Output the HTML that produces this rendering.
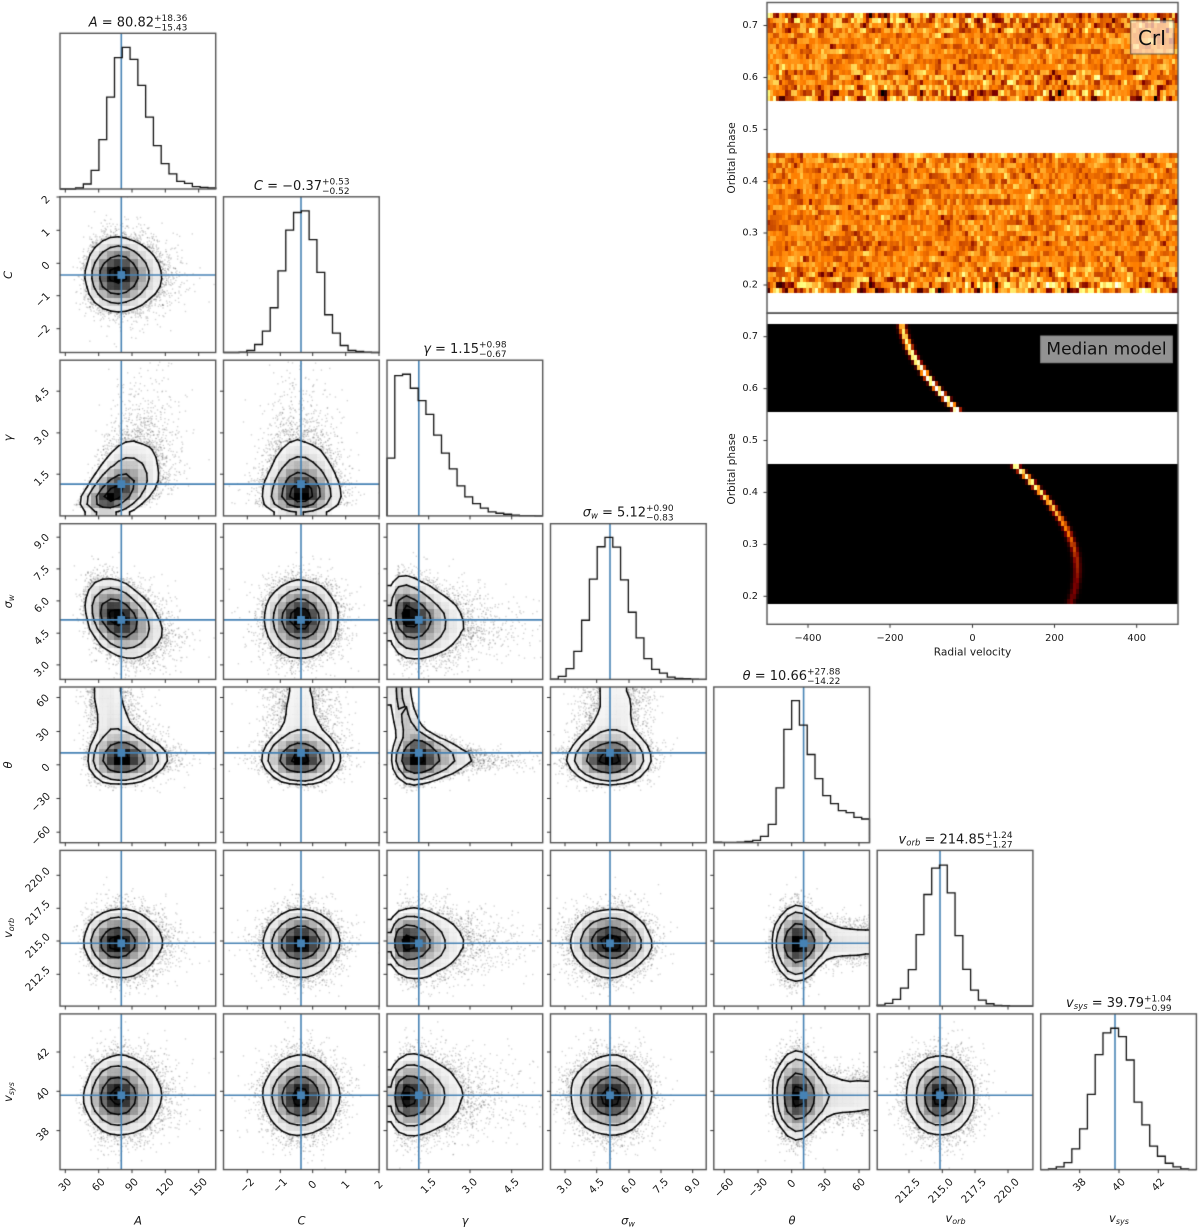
<!DOCTYPE html>
<html lang="en">
<head>
<meta charset="utf-8">
<title>Corner plot with orbital phase maps</title>
<style>
html,body{margin:0;padding:0;background:#fff;width:1200px;height:1229px;overflow:hidden}
canvas,svg{position:absolute;left:0;top:0;display:block}
text{font-family:"DejaVu Sans","Liberation Sans",sans-serif;fill:#1a1a1a}
.m{font-size:13px;text-anchor:end}
.s{font-size:9px;text-anchor:start}
.k{font-size:10.5px;text-anchor:middle;dominant-baseline:central}
.a{font-size:11.5px;font-style:italic;text-anchor:middle}
.p{font-size:9.8px;text-anchor:end;dominant-baseline:central}
.c{font-size:9.8px;text-anchor:middle}
.l{font-size:10.6px;text-anchor:middle}
.i{font-style:italic}
.u{font-size:8.5px;font-style:italic}
</style>
</head>
<body>
<canvas id="c" width="1200" height="1229"></canvas>
<svg width="1200" height="1229" viewBox="0 0 1200 1229" xmlns="http://www.w3.org/2000/svg">
<!-- titles -->
<text class="m" x="154" y="26.3"><tspan class="i">A</tspan> = 80.82</text><text class="s" x="154" y="20.8">+18.36</text><text class="s" x="154" y="30.3">−15.43</text>
<text class="m" x="322" y="189.8"><tspan class="i">C</tspan> = −0.37</text><text class="s" x="322" y="184.3">+0.53</text><text class="s" x="322" y="193.8">−0.52</text>
<text class="m" x="479" y="353.2"><tspan class="i">γ</tspan> = 1.15</text><text class="s" x="479" y="347.7">+0.98</text><text class="s" x="479" y="357.2">−0.67</text>
<text class="m" x="646" y="516.7"><tspan class="i">σ</tspan><tspan class="u" dy="2">w</tspan><tspan dy="-2"> = 5.12</tspan></text><text class="s" x="646" y="511.2">+0.90</text><text class="s" x="646" y="520.7">−0.83</text>
<text class="m" x="807" y="680"><tspan class="i">θ</tspan> = 10.66</text><text class="s" x="807" y="674.5">+27.88</text><text class="s" x="807" y="684">−14.22</text>
<text class="m" x="985" y="843.4"><tspan class="i">v</tspan><tspan class="u" dy="2">orb</tspan><tspan dy="-2"> = 214.85</tspan></text><text class="s" x="985" y="837.9">+1.24</text><text class="s" x="985" y="847.4">−1.27</text>
<text class="m" x="1144" y="1006.9"><tspan class="i">v</tspan><tspan class="u" dy="2">sys</tspan><tspan dy="-2"> = 39.79</tspan></text><text class="s" x="1144" y="1001.4">+1.04</text><text class="s" x="1144" y="1010.9">−0.99</text>
<!-- x tick labels -->
<text class="k" transform="translate(65.3 1185) rotate(-45)">30</text>
<text class="k" transform="translate(98.7 1185) rotate(-45)">60</text>
<text class="k" transform="translate(132 1185) rotate(-45)">90</text>
<text class="k" transform="translate(165.3 1187.3) rotate(-45)">120</text>
<text class="k" transform="translate(198.7 1187.3) rotate(-45)">150</text>
<text class="k" transform="translate(247.3 1185.7) rotate(-45)">−2</text>
<text class="k" transform="translate(280.3 1185.7) rotate(-45)">−1</text>
<text class="k" transform="translate(312.7 1185) rotate(-45)">0</text>
<text class="k" transform="translate(345.7 1185) rotate(-45)">1</text>
<text class="k" transform="translate(379 1185) rotate(-45)">2</text>
<text class="k" transform="translate(428.7 1186.2) rotate(-45)">1.5</text>
<text class="k" transform="translate(470 1186.2) rotate(-45)">3.0</text>
<text class="k" transform="translate(511.7 1186.2) rotate(-45)">4.5</text>
<text class="k" transform="translate(565 1186.2) rotate(-45)">3.0</text>
<text class="k" transform="translate(596.7 1186.2) rotate(-45)">4.5</text>
<text class="k" transform="translate(629 1186.2) rotate(-45)">6.0</text>
<text class="k" transform="translate(661 1186.2) rotate(-45)">7.5</text>
<text class="k" transform="translate(692.7 1186.2) rotate(-45)">9.0</text>
<text class="k" transform="translate(724.3 1188) rotate(-45)">−60</text>
<text class="k" transform="translate(758 1188) rotate(-45)">−30</text>
<text class="k" transform="translate(791.7 1184) rotate(-45)">0</text>
<text class="k" transform="translate(825 1185) rotate(-45)">30</text>
<text class="k" transform="translate(859 1185) rotate(-45)">60</text>
<text class="k" transform="translate(908 1191) rotate(-45)">212.5</text>
<text class="k" transform="translate(941 1191) rotate(-45)">215.0</text>
<text class="k" transform="translate(974 1191) rotate(-45)">217.5</text>
<text class="k" transform="translate(1007 1191) rotate(-45)">220.0</text>
<text class="k" transform="translate(1079.7 1185) rotate(-45)">38</text>
<text class="k" transform="translate(1119 1185) rotate(-45)">40</text>
<text class="k" transform="translate(1158.3 1185) rotate(-45)">42</text>
<!-- y tick labels -->
<text class="k" transform="translate(46 200) rotate(-45)">2</text>
<text class="k" transform="translate(46 233) rotate(-45)">1</text>
<text class="k" transform="translate(46 266) rotate(-45)">0</text>
<text class="k" transform="translate(43 300) rotate(-45)">−1</text>
<text class="k" transform="translate(43 332.4) rotate(-45)">−2</text>
<text class="k" transform="translate(42 478.7) rotate(-45)">1.5</text>
<text class="k" transform="translate(42 437.4) rotate(-45)">3.0</text>
<text class="k" transform="translate(42 395.7) rotate(-45)">4.5</text>
<text class="k" transform="translate(42 669.4) rotate(-45)">3.0</text>
<text class="k" transform="translate(42 637.7) rotate(-45)">4.5</text>
<text class="k" transform="translate(42 605.4) rotate(-45)">6.0</text>
<text class="k" transform="translate(42 573.4) rotate(-45)">7.5</text>
<text class="k" transform="translate(42 541.7) rotate(-45)">9.0</text>
<text class="k" transform="translate(41 836) rotate(-45)">−60</text>
<text class="k" transform="translate(41 802.5) rotate(-45)">−30</text>
<text class="k" transform="translate(46 768) rotate(-45)">0</text>
<text class="k" transform="translate(43 735) rotate(-45)">30</text>
<text class="k" transform="translate(43 701) rotate(-45)">60</text>
<text class="k" transform="translate(38 979) rotate(-45)">212.5</text>
<text class="k" transform="translate(38 946) rotate(-45)">215.0</text>
<text class="k" transform="translate(38 913) rotate(-45)">217.5</text>
<text class="k" transform="translate(38 880) rotate(-45)">220.0</text>
<text class="k" transform="translate(43 1134.5) rotate(-45)">38</text>
<text class="k" transform="translate(43 1094.5) rotate(-45)">40</text>
<text class="k" transform="translate(43 1055) rotate(-45)">42</text>
<!-- corner axis labels -->
<text class="a" x="138" y="1224.5">A</text>
<text class="a" x="301.5" y="1224.5">C</text>
<text class="a" x="465" y="1224.5">γ</text>
<text class="a" x="628" y="1224.5">σ<tspan font-size="8" dy="2">w</tspan></text>
<text class="a" x="792" y="1224.5">θ</text>
<text class="a" x="955.5" y="1222">v<tspan font-size="8" dy="2">orb</tspan></text>
<text class="a" x="1119" y="1222">v<tspan font-size="8" dy="2">sys</tspan></text>
<text class="a" transform="translate(12 275) rotate(-90)">C</text>
<text class="a" transform="translate(12 438) rotate(-90)">γ</text>
<text class="a" transform="translate(12 601.5) rotate(-90)">σ<tspan font-size="8" dy="2">w</tspan></text>
<text class="a" transform="translate(12 765) rotate(-90)">θ</text>
<text class="a" transform="translate(12 928) rotate(-90)">v<tspan font-size="8" dy="2">orb</tspan></text>
<text class="a" transform="translate(12 1092) rotate(-90)">v<tspan font-size="8" dy="2">sys</tspan></text>
<!-- right panels -->
<text class="p" x="758" y="25.5">0.7</text>
<text class="p" x="758" y="77.5">0.6</text>
<text class="p" x="758" y="129.5">0.5</text>
<text class="p" x="758" y="181.5">0.4</text>
<text class="p" x="758" y="233">0.3</text>
<text class="p" x="758" y="285">0.2</text>
<text class="p" x="758" y="336.7">0.7</text>
<text class="p" x="758" y="388.6">0.6</text>
<text class="p" x="758" y="440.5">0.5</text>
<text class="p" x="758" y="492.4">0.4</text>
<text class="p" x="758" y="544.4">0.3</text>
<text class="p" x="758" y="596.3">0.2</text>
<text class="l" transform="translate(735 158) rotate(-90)">Orbital phase</text>
<text class="l" transform="translate(735 469) rotate(-90)">Orbital phase</text>
<text class="c" x="808" y="641">−400</text>
<text class="c" x="890" y="641">−200</text>
<text class="c" x="972.5" y="641">0</text>
<text class="c" x="1054.5" y="641">200</text>
<text class="c" x="1136.7" y="641">400</text>
<text class="l" x="972.5" y="655.5">Radial velocity</text>
<text x="1152" y="45" style="font-size:20px;text-anchor:middle;fill:#111">CrI</text>
<text x="1106.5" y="354.5" style="font-size:17px;text-anchor:middle;fill:#111">Median model</text>
</svg>
<script>
(function(){
var cv=document.getElementById('c'),g=cv.getContext('2d');
g.fillStyle='#fff';g.fillRect(0,0,1200,1229);
var seed=12345;
function R(){seed|=0;seed=seed+0x6D2B79F5|0;var t=Math.imul(seed^seed>>>15,1|seed);t=t+Math.imul(t^t>>>7,61|t)^t;return((t^t>>>14)>>>0)/4294967296;}
function Z(){var u=Math.max(R(),1e-9),v=R();return Math.sqrt(-2*Math.log(u))*Math.cos(6.283185*v);}
var X=[60,223.5,387,550.5,713.8,877.2,1040.7];
var Y=[33.3,196.8,360.2,523.7,687,850.4,1013.9];
var S=155.7;
var LO=[25.2,-2.72,0,2.32,-69.4,210.09,36.02];
var HI=[165.4,2.0,5.62,9.64,69.3,221.9,43.9];
var TR=[121.3,301,418.8,610,803.6,940,1115];
var TX=[[65.3,98.7,132,165.3,198.7],[247.3,280.3,312.7,345.7,379],[428.7,470,511.7],[565,596.7,629,661,692.7],[724.3,758,791.7,825,859],[909,942.3,975,1008],[1079.7,1119,1158.3]];
var HG=[
[566,566,563,551,510,418,291,173,142,178,256,351,436,490,521,543,549,559,561,563],
[1056,1056,1055,1050,1032,992,922,812,690,637,632,718,816,943,998,1035,1050,1053,1055,1056],
[368,121,117,159,196,237,299,353,400,451,484,504,518,529,533,536,539,540,540,541],
[536,528,505,453,360,237,140,112,141,239,336,413,475,507,518,530,534,535,536,537],
[530,531,531,530,528,525,513,477,368,193,107,180,268,340,391,415,436,442,456,461],
[492,487,475,441,386,281,161,82,73,156,284,385,447,477,488,493,494,495,495,495],
[985,983,977,964,923,863,760,641,576,562,587,657,783,851,915,945,966,977,983,985]];
var HB=[566,1056,541,537,532,495,985];
/* samples */
var N=8000,D=[];
for(var n=0;n<N;n++){
 var tail=R()<0.33,gm,th,vo,vs;
 if(tail){
  th=12+75*Math.pow(R(),1.3);
  gm=0.12+(22/th)*Math.exp(0.3*Z());
  vo=214.95+0.85*Z();vs=39.7+0.72*Z();
 }else{
  gm=0.1+1.15*Math.exp(0.58*Z());
  var sd=9/(0.75+0.25*gm);
  th=4+sd*Z()+10*Math.max(0,0.7-gm);
  vo=214.85+1.3*Z();vs=39.79+1.05*Z();
 }
 var lg=Math.log(Math.max(gm-0.05,0.02)/1.1)/0.62;
 var zA=0.55*lg+0.83*Z();
 var A=80.8*Math.exp(0.2*zA);
 var zS=-0.35*zA+0.94*Z();
 var sg=5.12+0.87*zS;
 var C=-0.37+0.52*Z();
 D.push([A,C,gm,sg,th,vo,vs]);
}
var BW=S/20;
function frame(x,y,w,h){g.strokeStyle='#555';g.lineWidth=1.4;g.strokeRect(x,y,w,h);}
function line(a,b,c,d){g.beginPath();g.moveTo(a,b);g.lineTo(c,d);g.stroke();}
var KER=[];(function(){var s=0;for(var k=-3;k<=3;k++){var v=Math.exp(-0.5*k*k/0.72);KER.push(v);s+=v;}for(k=0;k<7;k++)KER[k]/=s;})();
function smooth(H){
 var T=[],O=[],i,j,k,v,q;
 for(i=0;i<20;i++){T.push(new Float64Array(20));O.push(new Float64Array(20));}
 for(i=0;i<20;i++)for(j=0;j<20;j++){v=0;for(k=-3;k<=3;k++){q=i+k;if(q>19)q=39-q;if(q<0)q=-q-1;v+=H[q][j]*KER[k+3];}T[i][j]=v;}
 for(i=0;i<20;i++)for(j=0;j<20;j++){v=0;for(k=-3;k<=3;k++){q=j+k;if(q>19)q=39-q;if(q<0)q=-q-1;v+=T[i][q]*KER[k+3];}O[i][j]=v;}
 return O;
}
function panel(r,c){
 var x0=X[c],y0=Y[r],b=y0+S,i,j,n;
 var H=[];for(i=0;i<20;i++)H.push(new Float64Array(20));
 g.save();g.beginPath();g.rect(x0,y0,S,S);g.clip();
 g.fillStyle='rgba(0,0,0,0.17)';
 var sx=S/(HI[c]-LO[c]),sy=S/(HI[r]-LO[r]);
 for(n=0;n<N;n++){
  var px=x0+(D[n][c]-LO[c])*sx,py=b-(D[n][r]-LO[r])*sy;
  if(px<x0||px>=x0+S||py<=y0||py>b)continue;
  g.fillRect(px-.7,py-.7,1.4,1.4);
  i=Math.min(19,Math.floor((px-x0)/BW));j=Math.min(19,Math.floor((b-py)/BW));
  H[i][j]++;
 }
 H=smooth(H);
 var fl=[],tot=0,mx=0;
 for(i=0;i<20;i++)for(j=0;j<20;j++){fl.push(H[i][j]);tot+=H[i][j];if(H[i][j]>mx)mx=H[i][j];}
 fl.sort(function(a,b){return b-a;});
 var LV=[0.118,0.393,0.675,0.865],V=[],cum=0,ix=0;
 for(var l=0;l<4;l++){while(ix<399&&cum+fl[ix]<LV[l]*tot){cum+=fl[ix];ix++;}V.push(fl[ix]);}
 function E(a,q){a=a-2;q=q-2;return H[Math.max(0,Math.min(19,a))][Math.max(0,Math.min(19,q))];}
 function PX(a){return x0+(a-2+.5)*BW;}
 function PY(q){return b-(q-2+.5)*BW;}
 function cell(a,q,lev,cb){
  var cs=[[a,q],[a+1,q],[a+1,q+1],[a,q+1]],poly=[],cr=[];
  for(var k=0;k<4;k++){
   var p=cs[k],o=cs[(k+1)%4],v1=E(p[0],p[1]),v2=E(o[0],o[1]);
   if(v1>=lev)poly.push([PX(p[0]),PY(p[1])]);
   if((v1>=lev)!==(v2>=lev)){
    var t=(lev-v1)/(v2-v1),pt=[PX(p[0])+(PX(o[0])-PX(p[0]))*t,PY(p[1])+(PY(o[1])-PY(p[1]))*t];
    poly.push(pt);cr.push(pt);
   }
  }
  cb(poly,cr);
 }
 /* white interior */
 g.fillStyle='#fff';g.strokeStyle='#fff';g.lineWidth=.6;
 for(i=0;i<23;i++)for(j=0;j<23;j++)cell(i,j,V[3],function(poly){
  if(poly.length<3)return;
  g.beginPath();g.moveTo(poly[0][0],poly[0][1]);
  for(var k=1;k<poly.length;k++)g.lineTo(poly[k][0],poly[k][1]);
  g.closePath();g.fill();g.stroke();
 });
 /* density blocks */
 for(i=0;i<20;i++)for(j=0;j<20;j++){
  var a=Math.pow(H[i][j]/mx,1.5);
  if(H[i][j]<V[3]*0.75)continue;
  g.fillStyle='rgba(0,0,0,'+a.toFixed(3)+')';
  g.fillRect(Math.round(x0+i*BW),Math.round(b-(j+1)*BW),Math.round(x0+(i+1)*BW)-Math.round(x0+i*BW),Math.round(b-j*BW)-Math.round(b-(j+1)*BW));
 }
 /* contours */
 g.strokeStyle='#000';g.lineWidth=1.5;g.lineCap='round';
 for(l=0;l<4;l++)for(i=0;i<23;i++)for(j=0;j<23;j++)cell(i,j,V[l],function(poly,cr){
  if(cr.length>=2)line(cr[0][0],cr[0][1],cr[1][0],cr[1][1]);
  if(cr.length==4)line(cr[2][0],cr[2][1],cr[3][0],cr[3][1]);
 });
 g.lineCap='butt';
 /* truths */
 g.strokeStyle='#4682b4';g.lineWidth=1.6;
 line(TR[c],y0,TR[c],b);
 var ty=Y[r]+S-(TR[r]-X[r]);
 line(x0,ty,x0+S,ty);
 g.fillStyle='#4682b4';g.fillRect(TR[c]-3.9,ty-3.9,7.8,7.8);
 g.restore();
 frame(x0,y0,S,S);
 g.strokeStyle='#333';g.lineWidth=1;
 TX[c].forEach(function(t){line(t,b,t,b+3.5);});
 TX[r].forEach(function(t){var yy=b-(t-X[r]);line(x0,yy,x0-3.5,yy);});
}
for(var r=1;r<7;r++)for(var c=0;c<r;c++)panel(r,c);
/* diagonals */
for(var d=0;d<7;d++){
 var x0=X[d],y0=Y[d],b=y0+S,bw=S/20;
 g.strokeStyle='#4682b4';g.lineWidth=1.6;line(TR[d],y0,TR[d],b);
 g.strokeStyle='#111';g.lineWidth=1.3;g.beginPath();
 g.moveTo(x0,b);
 for(var i=0;i<20;i++){
  var yy=b-(HB[d]-HG[d][i])/466*S;
  g.lineTo(x0+i*bw,yy);g.lineTo(x0+(i+1)*bw,yy);
 }
 g.lineTo(x0+S,b);g.stroke();
 frame(x0,y0,S,S);
 g.strokeStyle='#333';g.lineWidth=1;
 TX[d].forEach(function(t){line(t,b,t,b+3.5);});
}
/* right panels */
var RX=767,RW=411;
function am(t){t=Math.max(0,Math.min(1,t));var a=Math.min(1,2*t),e=Math.max(0,Math.min(1,2*t-.5)),f=Math.max(0,Math.min(1,2*t-1));return 'rgb('+Math.round(a*255)+','+Math.round(e*255)+','+Math.round(f*255)+')';}
function amp(p){
 if(p>0.70)return 0.2;
 if(p>0.685)return 0.14;
 if(p>0.61)return 0.085;
 if(p>0.575)return 0.13;
 if(p>0.5)return 0.2;
 if(p>0.43)return 0.125;
 if(p>0.24)return 0.09;
 if(p>0.205)return 0.13;
 return 0.2;
}
function clampT(v){return v;}
var cols=137,cw=RW/cols,bands=[[0.725,0.555],[0.455,0.185]];
function yTop(p){return 25.5+(0.7-p)*519;}
function yBot(p){return 336.7+(0.7-p)*519.2;}
bands.forEach(function(bd){
 var nr=Math.round((bd[0]-bd[1])*100);
 for(var i=0;i<nr;i++){
  var ph=bd[0]-(i+.5)*.01,a=amp(ph);
  var y1=Math.round(yTop(bd[0]-i*.01)),y2=Math.round(yTop(bd[0]-(i+1)*.01));
  var rowm=0.5+0.012*Z(),prev=Z(),jj;
  for(jj=0;jj<cols;jj++){
   var cur=Z(),mix=0.75*cur+0.35*prev;prev=cur;
   var xa=Math.round(RX+jj*cw),xb=Math.round(RX+(jj+1)*cw);
   g.fillStyle=am(rowm+a*mix);
   g.fillRect(xa,y1,xb-xa,y2-y1);
  }
  y1=Math.round(yBot(bd[0]-i*.01));y2=Math.round(yBot(bd[0]-(i+1)*.01));
  var v0=39.8+214.85*Math.sin(6.283185*ph);
  var ca=Math.cos(Math.PI*(ph-0.55));
  var I=0.2+0.9*ca*ca*ca*ca;
  for(jj=0;jj<cols;jj++){
   var v=-500+(jj+.5)*(1000/cols);
   var t=I*Math.exp(-0.5*Math.pow((v-v0)/6.3,2));
   var xa2=Math.round(RX+jj*cw),xb2=Math.round(RX+(jj+1)*cw);
   g.fillStyle=am(t);
   g.fillRect(xa2,y1,xb2-xa2,y2-y1);
  }
 }
});
g.strokeStyle='#555';g.lineWidth=1.4;
g.strokeRect(RX,2.5,RW,310.5);
g.strokeRect(RX,313.3,RW,311);
g.strokeStyle='#333';g.lineWidth=1;
[25.5,77.5,129.5,181.5,233,285,336.7,388.6,440.5,492.4,544.4,596.3].forEach(function(t){line(RX,t,RX-3.5,t);});
[808,890,972.5,1054.5,1136.7].forEach(function(t){line(t,624.3,t,627.8);});
/* legends */
g.fillStyle='rgba(255,255,255,0.58)';g.fillRect(1130.7,20.7,43.3,33.3);
g.strokeStyle='rgba(60,60,60,0.75)';g.lineWidth=1;g.strokeRect(1130.7,20.7,43.3,33.3);
g.fillStyle='#929292';g.fillRect(1040.7,336,131.6,26.7);
g.strokeStyle='#8a8a8a';g.strokeRect(1040.7,336,131.6,26.7);
})();
</script>
</body>
</html>
